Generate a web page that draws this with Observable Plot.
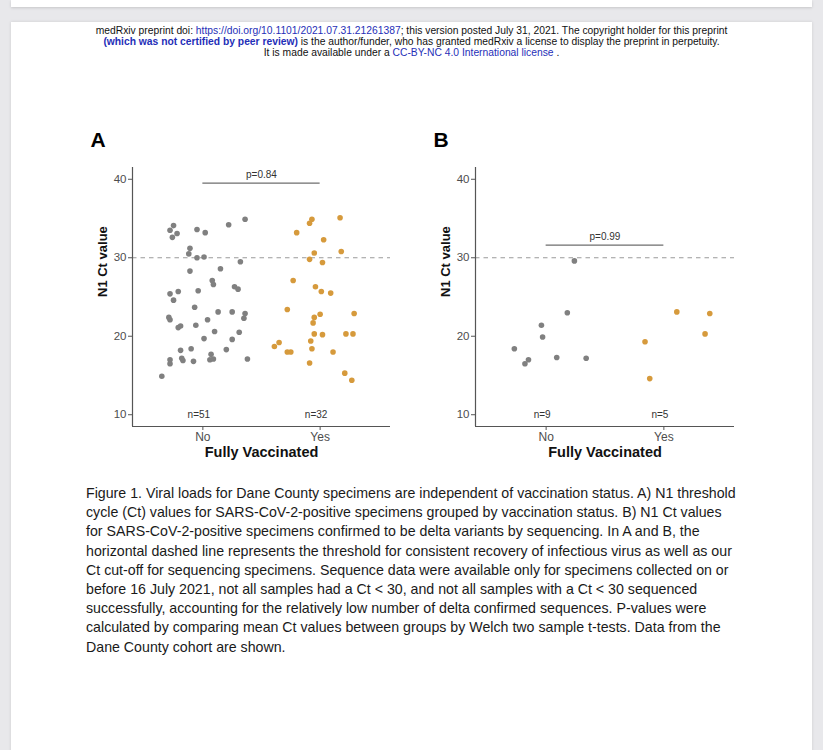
<!DOCTYPE html>
<html>
<head>
<meta charset="utf-8">
<script src="https://cdn.jsdelivr.net/npm/d3@7"></script>
<script src="https://cdn.jsdelivr.net/npm/@observablehq/plot@0.6"></script>
<style>
  html, body { margin: 0; padding: 0; }
  body { width: 823px; height: 750px; overflow: hidden; background: #e8e8eb; position: relative; font-family: "Liberation Sans", Arial, sans-serif; }
  #topcard { position: absolute; left: 11px; top: 0; width: 801px; height: 7px; background: #fff; box-shadow: 0 1px 3px rgba(0,0,0,0.15); }
  #page { position: absolute; left: 11px; top: 22px; width: 801px; height: 740px; background: #fff; box-shadow: 0 0 3px rgba(0,0,0,0.12); }
  #header { position: absolute; left: 0; top: 25px; width: 823px; text-align: center; font-size: 10.3px; line-height: 11px; color: #111; }
  #header .lk { color: #1f2fb8; }
  #header b { color: #1f2fb8; }
  #caption { position: absolute; left: 86px; top: 484px; width: 720px; font-size: 14.2px; line-height: 19.2px; color: #1a1a1a; white-space: nowrap; }
  .panel { position: absolute; top: 120px; }
  #pa { left: 80px; }
  #pb { left: 420px; }
</style>
</head>
<body>
<div id="topcard"></div>
<div id="page"></div>
<div id="header">
medRxiv preprint doi: <span class="lk">https://doi.org/10.1101/2021.07.31.21261387</span>; this version posted July 31, 2021. The copyright holder for this preprint<br>
<b>(which was not certified by peer review)</b> is the author/funder, who has granted medRxiv a license to display the preprint in perpetuity.<br>
It is made available under a <span class="lk">CC-BY-NC 4.0 International license</span> .
</div>
<div id="pa" class="panel"></div>
<div id="pb" class="panel"></div>
<div id="caption">
Figure 1. Viral loads for Dane County specimens are independent of vaccination status. A) N1 threshold<br>
cycle (Ct) values for SARS-CoV-2-positive specimens grouped by vaccination status. B) N1 Ct values<br>
for SARS-CoV-2-positive specimens confirmed to be delta variants by sequencing. In A and B, the<br>
horizontal dashed line represents the threshold for consistent recovery of infectious virus as well as our<br>
Ct cut-off for sequencing specimens. Sequence data were available only for specimens collected on or<br>
before 16 July 2021, not all samples had a Ct &lt; 30, and not all samples with a Ct &lt; 30 sequenced<br>
successfully, accounting for the relatively low number of delta confirmed sequences. P-values were<br>
calculated by comparing mean Ct values between groups by Welch two sample t-tests. Data from the<br>
Dane County cohort are shown.
</div>
<script>
// ---- Data ----
const groups = ["No", "Yes"];
const yTicks = [10, 20, 30, 40];
const threshold = 30;

// Panel A: all specimens
const aNoCt = [33.5, 34.1, 33.1, 32.6, 33.6, 33.2, 34.2, 34.9, 31.2, 30.5, 30.0, 30.1, 29.5, 28.3, 28.6, 27.1, 26.6, 26.3, 26.0, 25.8, 25.4, 25.7, 24.6, 23.7, 23.1, 23.1, 22.9, 22.3, 22.4, 22.1, 22.1, 21.1, 21.3, 21.4, 20.6, 20.5, 19.7, 19.6, 18.2, 18.4, 18.3, 17.7, 17.0, 16.5, 17.2, 16.9, 16.8, 17.0, 17.1, 17.1, 14.9];
const aNoJitter = [-0.28, -0.25, -0.22, -0.26, -0.05, 0.02, 0.22, 0.36, -0.11, -0.12, -0.05, 0.01, 0.32, -0.11, 0.15, 0.08, 0.09, 0.27, 0.30, -0.04, -0.28, -0.21, -0.25, -0.07, 0.13, 0.25, 0.36, 0.35, -0.29, -0.28, 0.04, -0.21, -0.19, -0.06, 0.10, 0.31, 0.01, 0.25, -0.19, -0.10, 0.20, 0.07, -0.28, -0.28, -0.18, -0.17, -0.08, 0.06, 0.09, 0.38, -0.35];
const aYesCt = [34.9, 34.4, 35.1, 33.2, 32.3, 30.6, 30.8, 29.8, 29.4, 27.1, 26.3, 25.7, 25.5, 23.4, 22.8, 22.4, 21.7, 22.9, 20.3, 20.2, 20.3, 20.3, 19.4, 19.2, 18.7, 18.0, 18.0, 18.4, 18.0, 16.6, 15.3, 14.4];
const aYesJitter = [-0.07, -0.09, 0.17, -0.20, 0.03, -0.05, 0.18, -0.09, 0.02, -0.23, -0.04, 0.01, 0.09, -0.28, 0.00, -0.05, -0.06, 0.29, -0.05, 0.02, 0.22, 0.28, -0.08, -0.35, -0.39, -0.28, -0.25, -0.07, 0.11, -0.09, 0.21, 0.27];
const aP = "p=0.84";
const aPy = 39.5;

// Panel B: delta-confirmed specimens
const bNoCt = [29.6, 23.0, 21.4, 19.9, 18.4, 16.5, 17.0, 17.3, 17.2];
const bNoJitter = [0.24, 0.18, -0.04, -0.03, -0.27, -0.18, -0.15, 0.09, 0.34];
const bYesCt = [23.1, 22.9, 20.3, 19.3, 14.6];
const bYesJitter = [0.11, 0.39, 0.35, -0.16, -0.12];
const bP = "p=0.99";
const bPy = 31.6;

const colors = ["#808080", "#d69a3c"];

// ---- Build ----
function rows(ct, jit, g) {
  return ct.map((v, i) => ({group: g, x: groups.indexOf(g) + 1 + jit[i], ct: v}));
}

function panel(letter, noCt, noJ, yesCt, yesJ, pLabel, pY, marginLeft, width) {
  const data = rows(noCt, noJ, "No").concat(rows(yesCt, yesJ, "Yes"));
  const counts = [{x: 1, t: "n=" + noCt.length}, {x: 2, t: "n=" + yesCt.length}];
  return Plot.plot({
    width: width,
    height: 345,
    marginLeft: marginLeft,
    marginRight: 10,
    marginTop: 47,
    marginBottom: 39,
    style: {fontFamily: "'Liberation Sans', Arial, sans-serif", background: "transparent", overflow: "visible"},
    x: {domain: [0.4, 2.6], axis: null},
    y: {domain: [8.5, 41.5], axis: null},
    color: {domain: groups, range: colors},
    marks: [
      Plot.ruleY([threshold], {stroke: "#9a9a9a", strokeWidth: 1, strokeDasharray: "4.5,4"}),
      Plot.dot(data, {x: "x", y: "ct", fill: "group", r: 2.8}),
      Plot.ruleY([pY], {x1: 1, x2: 2, stroke: "#6e6e6e", strokeWidth: 1.3}),
      Plot.text([pLabel], {x: 1.5, y: pY, dy: -8, fontSize: 10, fill: "#333"}),
      Plot.text(counts, {x: "x", y: 10, text: "t", dx: -4, fontSize: 10, fill: "#333"}),
      Plot.ruleX([0.4], {stroke: "#555", strokeWidth: 1.2}),
      Plot.ruleY([8.5], {stroke: "#555", strokeWidth: 1.2}),
      Plot.axisY(yTicks, {tickSize: 4, tickPadding: 2, fontSize: 11.5, color: "#4d4d4d", stroke: "#555", label: null}),
      Plot.axisX([1, 2], {tickSize: 4, tickPadding: 2, fontSize: 12, color: "#4d4d4d", stroke: "#555", label: null, tickFormat: d => groups[d - 1]}),
      Plot.text(["N1 Ct value"], {frameAnchor: "left", rotate: -90, dx: -30, fontSize: 13, fontWeight: "bold", fill: "#111"}),
      Plot.text(["Fully Vaccinated"], {frameAnchor: "bottom", lineAnchor: "middle", dy: 26, fontSize: 14.5, fontWeight: "bold", fill: "#111"}),
      Plot.text([letter], {frameAnchor: "top-left", dx: -42, dy: -35, fontSize: 21, fontWeight: "bold", fill: "#000"})
    ]
  });
}

document.getElementById("pa").appendChild(panel("A", aNoCt, aNoJitter, aYesCt, aYesJitter, aP, aPy, 52, 320));
document.getElementById("pb").appendChild(panel("B", bNoCt, bNoJitter, bYesCt, bYesJitter, bP, bPy, 55, 324));
</script>
</body>
</html>
